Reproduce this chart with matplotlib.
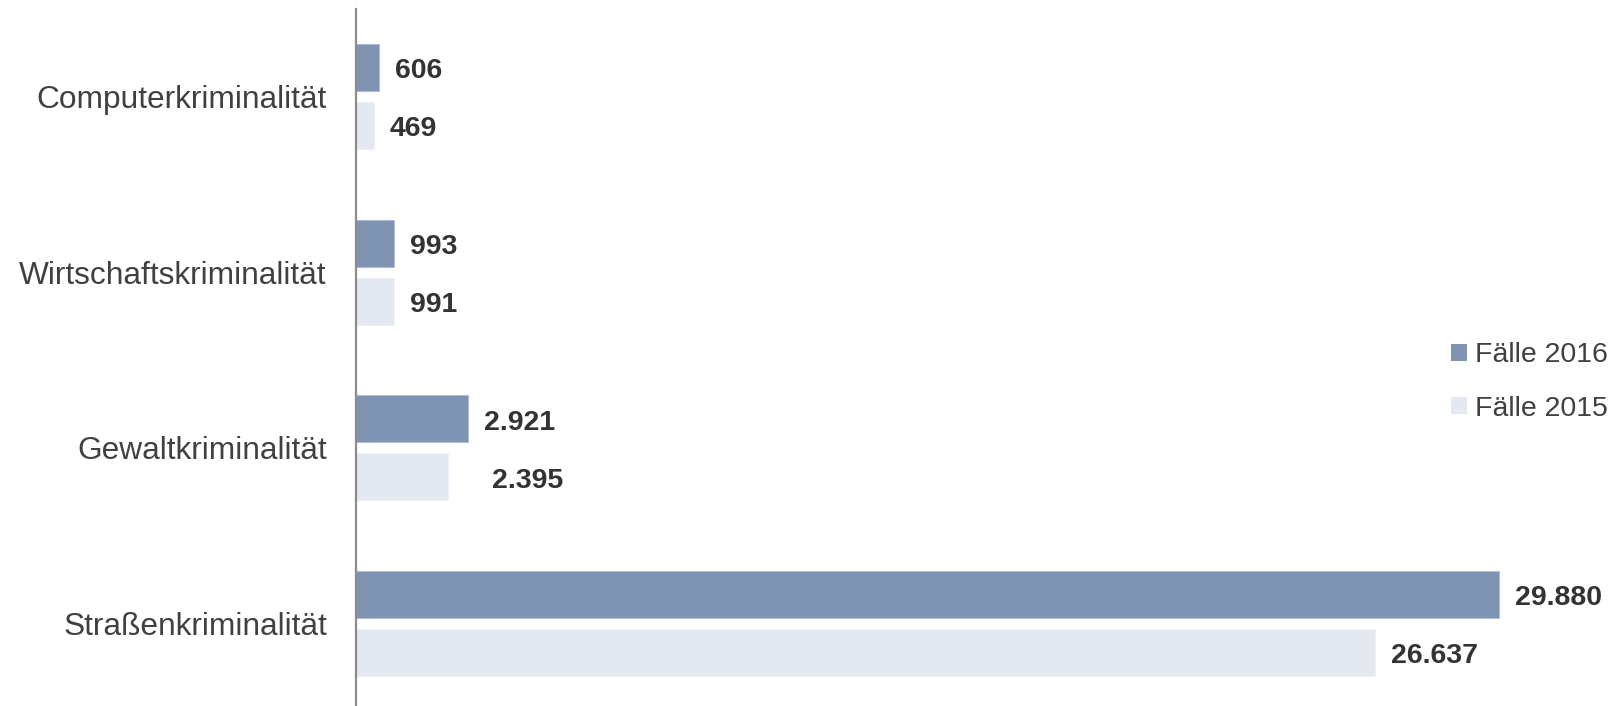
import matplotlib.pyplot as plt
from matplotlib.patches import Patch
import numpy as np

plt.rcParams['font.family'] = ['Liberation Sans', 'DejaVu Sans']

# Daten
categories = ["Computerkriminalität", "Wirtschaftskriminalität", "Gewaltkriminalität", "Straßenkriminalität"]
faelle_2016 = [606, 993, 2921, 29880]
faelle_2015 = [469, 991, 2395, 26637]
labels_2016 = ["606", "993", "2.921", "29.880"]
labels_2015 = ["469", "991", "2.395", "26.637"]
series_names = ["Fälle 2016", "Fälle 2015"]

col_2016 = "#7F93B2"
col_2015 = "#E4E8F0"

W, H = 1619, 706
fig = plt.figure(figsize=(W / 100, H / 100), dpi=100)
ax_left = 356 / W
ax = fig.add_axes([ax_left, 0, 1 - ax_left, 1])

y = np.arange(len(categories))
step = 175.5
bar_h = 47 / step
off = 29 / step

ax.barh(y - off, faelle_2016, height=bar_h, color=col_2016, edgecolor="#AEBBD0", linewidth=0.6)
ax.barh(y + off, faelle_2015, height=bar_h, color=col_2015, edgecolor="#EEF0F5", linewidth=0.6)

px_per_unit = 1143 / 29880
ax.set_xlim(0, (W - 356) / px_per_unit)
top = -96.5 / step
bottom = top + H / step
ax.set_ylim(bottom, top)

# Beschriftungen
for i in range(len(categories)):
    ax.annotate(labels_2016[i], (faelle_2016[i], y[i] - off), xytext=(16, -4),
                textcoords="offset pixels", va="center", ha="left",
                fontsize=20.5, fontweight="bold", color="#333333")
    extra = 28 if i == 2 else 0
    ax.annotate(labels_2015[i], (faelle_2015[i], y[i] + off), xytext=(16 + extra, -4),
                textcoords="offset pixels", va="center", ha="left",
                fontsize=20.5, fontweight="bold", color="#333333")

ax.set_yticks(y)
ax.set_yticklabels(categories, fontsize=22.8, color="#404040")
ax.tick_params(axis="y", length=0, pad=21)
ax.set_xticks([])

for s in ["top", "right", "bottom"]:
    ax.spines[s].set_visible(False)
ax.spines["left"].set_color("#8C8C8C")
ax.spines["left"].set_linewidth(1.6)
ax.spines["left"].set_bounds(bottom, top + 9 / step)

handles = [Patch(facecolor=col_2016), Patch(facecolor=col_2015)]
fig.legend(handles, series_names, loc="center left", bbox_to_anchor=(1425 / W, 1 - 382 / H),
           frameon=False, fontsize=20.5, handlelength=0.56, handleheight=0.56,
           handletextpad=0.28, labelspacing=0.95, labelcolor="#404040")

fig.savefig("out.png", dpi=100)
